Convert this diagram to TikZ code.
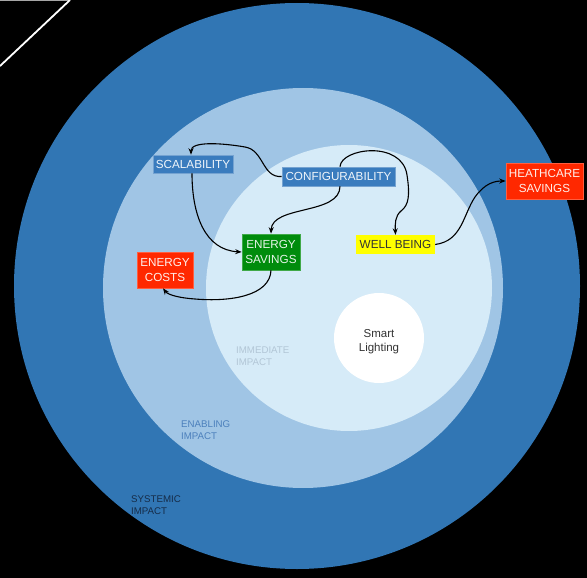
\documentclass[tikz,border=0pt]{standalone}
\usepackage{fontspec}
\setmainfont{Liberation Sans}
\usetikzlibrary{arrows.meta}

\definecolor{systemic}{RGB}{49,118,180}
\definecolor{enabling}{RGB}{160,197,229}
\definecolor{immediate}{RGB}{214,235,248}
\definecolor{boxblue}{RGB}{58,124,190}
\definecolor{boxgreen}{RGB}{0,140,12}
\definecolor{boxred}{RGB}{255,40,0}
\definecolor{boxyellow}{RGB}{255,255,0}
\definecolor{lblimmediate}{RGB}{178,198,214}
\definecolor{lblenabling}{RGB}{76,128,188}
\definecolor{lblsystemic}{RGB}{22,44,72}

\tikzset{
  factor/.style={inner sep=0pt, align=center,
    font=\fontsize{11.7}{15}\selectfont},
  bluefactor/.style={factor, fill=boxblue, draw=boxblue!70!white, line width=0.6pt, text=white!92!boxblue},
  greenfactor/.style={factor, fill=boxgreen, draw=boxgreen!75!white, line width=0.6pt, text=white!90!boxgreen},
  redfactor/.style={factor, fill=boxred, draw=boxred!75!white, line width=0.6pt, text=white!92!boxred},
  yellowfactor/.style={factor, fill=boxyellow, text=black!80},
  ringlabel/.style={anchor=north west, inner sep=0pt, align=left,
    font=\fontsize{9.7}{11.5}\selectfont},
  link/.style={draw=black, line width=1.1pt, -{Stealth[length=6.5pt,width=5pt]}}
}

\begin{document}
\begin{tikzpicture}[x=1pt,y=-1pt]
  % canvas
  \fill[black] (0,0) rectangle (587,578);
  \useasboundingbox (0,0) rectangle (587,578);

  % corner marks
  \draw[gray!70, line width=0.8pt] (0,0.4) -- (70,0.4);
  \draw[white, line width=1.8pt] (70,0) -- (0,66);

  % impact rings
  \fill[systemic]  (297,286) circle[radius=283];
  \fill[enabling]  (303,288) circle[radius=200];
  \fill[immediate] (349,288) circle[radius=143];
  \fill[white]     (379,338) circle[radius=45];

  % ring labels
  \node[ringlabel, text=lblimmediate] (immlbl) at (236,347) {IMMEDIATE\\IMPACT};
  \node[ringlabel, text=lblenabling]  (enalbl) at (181,421) {ENABLING\\IMPACT};
  \node[ringlabel, text=lblsystemic]  (syslbl) at (131,496) {SYSTEMIC\\IMPACT};

  % core
  \node[align=center, inner sep=0pt, text=black!80,
        font=\fontsize{11.5}{13.5}\selectfont] (core) at (379,341.5) {Smart\\Lighting};

  % factors
  \node[bluefactor, minimum width=80pt, minimum height=18pt] (scal) at (193,164) {SCALABILITY};
  \node[bluefactor, minimum width=113pt, minimum height=19pt] (conf) at (338.5,176.5) {CONFIGURABILITY};
  \node[greenfactor, minimum width=58pt, minimum height=36pt] (es) at (271,252) {ENERGY\\SAVINGS};
  \node[redfactor, minimum width=56pt, minimum height=36pt] (ec) at (165,270) {ENERGY\\COSTS};
  \node[yellowfactor, minimum width=79pt, minimum height=19pt] (wb) at (395.5,244.5) {WELL BEING};
  \node[redfactor, minimum width=77pt, minimum height=36pt] (hc) at (544.5,181) {HEATHCARE\\SAVINGS};

  % links
  \draw[link] (conf.west) .. controls (262,178) and (264,150) .. (245,147)
              .. controls (222,143) and (191,141) .. ([xshift=-2pt]scal.north);
  \draw[link] ([xshift=-1pt]scal.south) .. controls (192,215) and (205,250) .. (es.west);
  \draw[link] ([xshift=1.5pt]conf.south) .. controls (340,215) and (272,205) .. (es.north);
  \draw[link] ([xshift=1.5pt]conf.north) .. controls (341,148) and (402,140) .. (407,175)
              .. controls (410,195) and (409,205) .. (401,211)
              .. controls (395,216) and (395,224) .. (wb.north);
  \draw[link] (es.south) .. controls (270,296) and (230,302) .. (195,299)
              .. controls (180,298) and (168,295) .. ([xshift=-2pt]ec.south);
  \draw[link] (wb.east) .. controls (462,241) and (463,215) .. (475,197)
              .. controls (485,183) and (495,181) .. (hc.west);
\end{tikzpicture}
\end{document}
